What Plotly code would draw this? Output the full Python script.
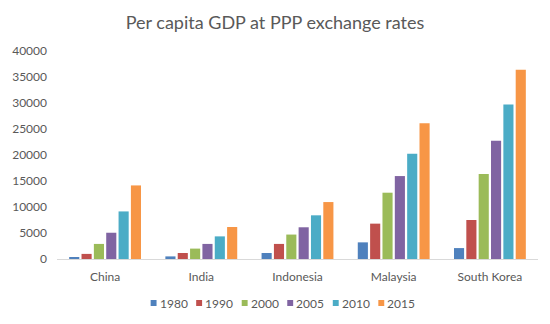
import plotly.graph_objects as go

countries = ["China", "India", "Indonesia", "Malaysia", "South Korea"]
years = ["1980", "1990", "2000", "2005", "2010", "2015"]
v1980 = [250, 500, 1150, 3200, 2100]
v1990 = [980, 1150, 2900, 6800, 7500]
v2000 = [2900, 2000, 4700, 12750, 16350]
v2005 = [5050, 2900, 6100, 15950, 22750]
v2010 = [9150, 4350, 8400, 20250, 29700]
v2015 = [14150, 6150, 10950, 26100, 36400]
series = [v1980, v1990, v2000, v2005, v2010, v2015]
colors = ["#4F81BD", "#C0504D", "#9BBB59", "#8064A2", "#4BACC6", "#F79646"]

W, H = 550, 324
ML, MR, MT, MB = 50, 12, 51, 65
PW, PH = W - ML - MR, H - MT - MB

fig = go.Figure()
for y, vals, c in zip(years, series, colors):
    fig.add_trace(go.Bar(name=y, x=countries, y=vals, marker_color=c, marker_line_width=0))

# compact legend (Excel style): small square followed by label
shapes, annos = [], []
leg_y = 303
for i, (y, c) in enumerate(zip(years, colors)):
    px = 145 + i * 46.2
    x0 = (px - ML) / PW
    x1 = (px + 6 - ML) / PW
    yc = (H - MB - leg_y) / PH
    dy = 3 / PH
    shapes.append(dict(type="rect", xref="paper", yref="paper", x0=x0, x1=x1,
                       y0=yc - dy, y1=yc + dy, fillcolor=c, line=dict(width=0)))
    annos.append(dict(text=y, xref="paper", yref="paper", x=(px + 7 - ML) / PW, y=yc,
                      xanchor="left", yanchor="middle", showarrow=False,
                      font=dict(size=12, color="#595959", family="Lato")))

fig.update_layout(
    width=W, height=H,
    margin=dict(l=ML, r=MR, t=MT, b=MB),
    paper_bgcolor="white", plot_bgcolor="white",
    font=dict(family="Lato", color="#595959", size=12),
    title=dict(text="Per capita GDP at PPP exchange rates", x=0.5, xanchor="center",
               y=1 - 23 / H, yanchor="middle", font=dict(size=18, color="#595959", family="Lato")),
    barmode="group", bargap=0.23, bargroupgap=0.18,
    showlegend=False,
    shapes=shapes, annotations=annos,
)
fig.update_yaxes(range=[0, 40000], dtick=5000, tickformat="d", showgrid=False, zeroline=False,
                 showline=False, tickfont=dict(size=12), ticks="", ticklabelstandoff=9)
fig.update_xaxes(showline=True, linecolor="#D9D9D9", linewidth=1, ticks="",
                 tickfont=dict(size=12), ticklabelstandoff=7)

fig.write_html("out.html")
